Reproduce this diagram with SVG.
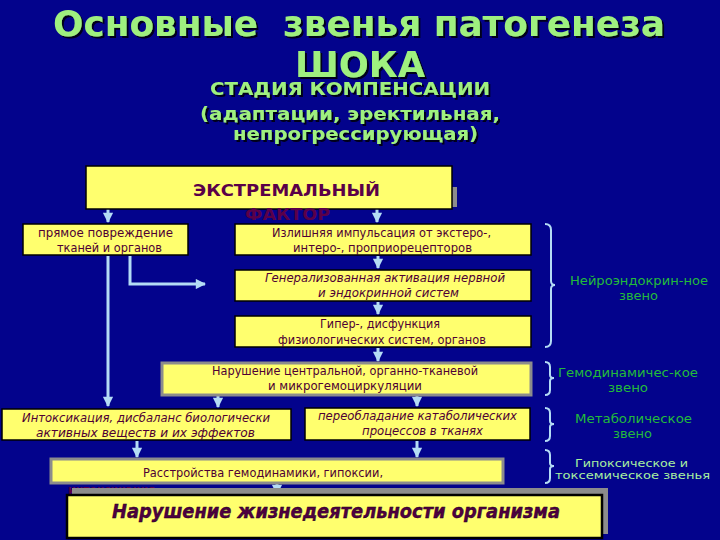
<svg xmlns="http://www.w3.org/2000/svg" width="720" height="540" viewBox="0 0 720 540">
<defs>
<style>
.title{font-family:"DejaVu Sans",Verdana,sans-serif;font-weight:bold;fill:#9FF07F;filter:url(#sh)}
.box{fill:#FFFF6E;stroke:#000;stroke-width:1.5}
.gbox{fill:#FFFF6E;stroke:#8C8C8C;stroke-width:3}
.t{font-family:"DejaVu Sans",Verdana,sans-serif;font-size:11.5px;fill:#4E0034}
.ti{font-family:"DejaVu Sans",Verdana,sans-serif;font-size:11.5px;fill:#4E0034;font-style:italic}
.lab{font-family:"DejaVu Sans",Verdana,sans-serif;font-size:12px;fill:#22BB3A}
.lab2{font-family:"DejaVu Sans",Verdana,sans-serif;font-size:11px;fill:#A8F0A0}
.ar{stroke:#B4DCF5;stroke-width:3;fill:none;marker-end:url(#ah)}
.br{stroke:#B4DCF5;stroke-width:2;fill:none}
</style>
<filter id="sh" x="-5%" y="-20%" width="110%" height="150%">
<feDropShadow dx="2" dy="2" stdDeviation="0.4" flood-color="#000010" flood-opacity="0.9"/>
</filter>
<marker id="ah" viewBox="0 0 10 10" refX="9" refY="5" markerWidth="3.8" markerHeight="3.4" orient="auto" markerUnits="strokeWidth">
<path d="M0,0 L10,5 L0,10 z" fill="#B4DCF5"/>
</marker>
</defs>
<rect width="720" height="540" fill="#03038C"/>

<g id="title">
<text class="title" x="53" y="36" font-size="35" xml:space="preserve" textLength="612" lengthAdjust="spacingAndGlyphs">Основные  звенья патогенеза</text>
<text class="title" x="295" y="77" font-size="35" textLength="130" lengthAdjust="spacingAndGlyphs">ШОКА</text>
<text class="title" x="210" y="95" font-size="18" textLength="280" lengthAdjust="spacingAndGlyphs">СТАДИЯ КОМПЕНСАЦИИ</text>
<text class="title" x="200" y="120" font-size="18" textLength="300" lengthAdjust="spacingAndGlyphs">(адаптации, эректильная,</text>
<text class="title" x="233" y="140" font-size="18" textLength="245" lengthAdjust="spacingAndGlyphs">непрогрессирующая)</text>
</g>

<g id="connectors">
<path class="ar" d="M108,209 V222"/>
<path class="ar" d="M377,209 V222"/>
<path class="ar" d="M108,256 V406"/>
<path class="ar" d="M130,256 V284 H205"/>
<path class="ar" d="M378,256 V268"/>
<path class="ar" d="M378,302 V314"/>
<path class="ar" d="M378,348 V361"/>
<path class="ar" d="M218,396 V407"/>
<path class="ar" d="M417,396 V406"/>
<path class="ar" d="M137,441 V457"/>
<path class="ar" d="M417,441 V457"/>
<path class="ar" d="M277,484 V494"/>
</g>

<g id="n-factor">
<rect x="452" y="187" width="5" height="20" fill="#8C8C8C"/>
<rect class="box" x="86" y="166" width="366" height="43"/>
<text x="193" y="196" font-family="DejaVu Sans,Verdana,sans-serif" font-weight="bold" font-size="16" fill="#5A0048" textLength="187" lengthAdjust="spacingAndGlyphs">ЭКСТРЕМАЛЬНЫЙ</text>
<text x="245" y="220" font-family="DejaVu Sans,Verdana,sans-serif" font-weight="bold" font-size="16" fill="#5A0048" textLength="85" lengthAdjust="spacingAndGlyphs">ФАКТОР</text>
</g>

<g id="n-direct">
<rect class="box" x="23" y="224" width="165" height="31"/>
<text class="t" x="38" y="237" textLength="135" lengthAdjust="spacingAndGlyphs">прямое повреждение</text>
<text class="t" x="57" y="252" textLength="105" lengthAdjust="spacingAndGlyphs">тканей и органов</text>
</g>

<g id="n-impulse">
<rect class="box" x="235" y="224" width="296" height="31"/>
<text class="t" x="272" y="237" textLength="219" lengthAdjust="spacingAndGlyphs">Излишняя импульсация от экстеро-,</text>
<text class="t" x="293" y="252" textLength="179" lengthAdjust="spacingAndGlyphs">интеро-, проприорецепторов</text>
</g>

<g id="n-general">
<rect class="box" x="235" y="270" width="296" height="31"/>
<text class="ti" x="265" y="282" textLength="240" lengthAdjust="spacingAndGlyphs">Генерализованная активация нервной</text>
<text class="ti" x="318" y="297" textLength="141" lengthAdjust="spacingAndGlyphs">и эндокринной систем</text>
</g>

<g id="n-hyper">
<rect class="box" x="235" y="316" width="296" height="31"/>
<text class="t" x="320" y="328" textLength="120" lengthAdjust="spacingAndGlyphs">Гипер-, дисфункция</text>
<text class="t" x="278" y="344" textLength="208" lengthAdjust="spacingAndGlyphs">физиологических систем, органов</text>
</g>

<g id="n-hemo">
<rect class="gbox" x="162" y="363" width="369" height="32"/>
<text class="t" x="212" y="375" textLength="266" lengthAdjust="spacingAndGlyphs">Нарушение центральной, органно-тканевой</text>
<text class="t" x="268" y="390" textLength="154" lengthAdjust="spacingAndGlyphs">и микрогемоциркуляции</text>
</g>

<g id="n-intox">
<rect class="box" x="2" y="409" width="289" height="31"/>
<text class="ti" x="22" y="422" textLength="248" lengthAdjust="spacingAndGlyphs">Интоксикация, дисбаланс биологически</text>
<text class="ti" x="36" y="437" textLength="219" lengthAdjust="spacingAndGlyphs">активных веществ и их эффектов</text>
</g>

<g id="n-catab">
<rect class="box" x="305" y="408" width="225" height="32"/>
<text class="ti" x="318" y="420" textLength="199" lengthAdjust="spacingAndGlyphs">переобладание катаболических</text>
<text class="ti" x="362" y="435" textLength="121" lengthAdjust="spacingAndGlyphs">процессов в тканях</text>
</g>

<g id="n-disorder">
<rect class="gbox" x="51" y="459" width="452" height="24"/>
<text class="t" x="143" y="477" textLength="240" lengthAdjust="spacingAndGlyphs">Расстройства гемодинамики, гипоксии,</text>
</g>

<g id="n-result">
<text x="68" y="494" font-family="DejaVu Sans,Verdana,sans-serif" font-weight="bold" font-size="13" fill="#5A0048" textLength="87" lengthAdjust="spacingAndGlyphs">интоксикация</text>
<rect x="72" y="488" width="536" height="46" fill="#8C8C8C"/>
<rect x="67" y="495" width="535" height="43" fill="#FFFF6E" stroke="#000" stroke-width="2.5"/>
<text x="112" y="518" font-family="DejaVu Sans,Verdana,sans-serif" font-weight="bold" font-style="italic" font-size="19" fill="#4E0040" stroke="#1a0018" stroke-width="0.4" textLength="448" lengthAdjust="spacingAndGlyphs">Нарушение жизнедеятельности организма</text>
</g>

<g id="braces">
<path class="br" d="M545,224 Q551,224 551,230 V281 Q551,285 555,285 Q551,285 551,289 V341 Q551,347 545,347"/>
<path class="br" d="M545,362 Q550,362 550,367 V375 Q550,378 554,378 Q550,378 550,381 V390 Q550,395 545,395"/>
<path class="br" d="M545,408 Q550,408 550,413 V421 Q550,424 554,424 Q550,424 550,427 V436 Q550,441 545,441"/>
<path class="br" d="M545,450 Q550,450 550,455 V463 Q550,466 554,466 Q550,466 550,469 V478 Q550,483 545,483"/>
</g>

<g id="labels">
<text class="lab" x="570" y="285" textLength="138" lengthAdjust="spacingAndGlyphs">Нейроэндокрин-ное</text>
<text class="lab" x="619" y="300" textLength="39" lengthAdjust="spacingAndGlyphs">звено</text>
<text class="lab" x="558" y="377" textLength="140" lengthAdjust="spacingAndGlyphs">Гемодинамичес-кое</text>
<text class="lab" x="608" y="392" textLength="40" lengthAdjust="spacingAndGlyphs">звено</text>
<text class="lab" x="575" y="423" textLength="117" lengthAdjust="spacingAndGlyphs">Метаболическое</text>
<text class="lab" x="613" y="438" textLength="39" lengthAdjust="spacingAndGlyphs">звено</text>
<text class="lab2" x="575" y="467" textLength="113" lengthAdjust="spacingAndGlyphs">Гипоксическое и</text>
<text class="lab2" x="555" y="479" textLength="155" lengthAdjust="spacingAndGlyphs">токсемическое звенья</text>
</g>
</svg>
